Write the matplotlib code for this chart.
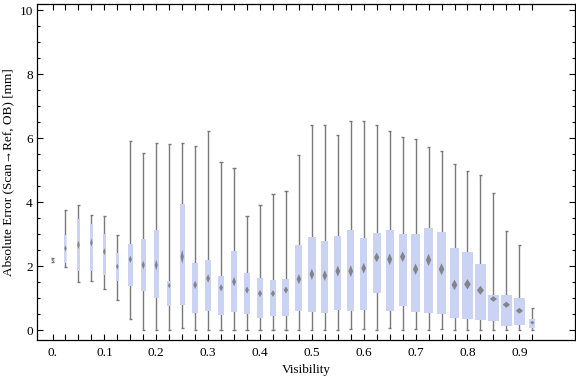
import matplotlib
matplotlib.use('Agg')
import matplotlib.pyplot as plt
from matplotlib.patches import Polygon

plt.rcParams['font.family'] = ['Liberation Serif', 'DejaVu Serif']

# visibility bins (box centres)
vis = [0.0, 0.025, 0.05, 0.075, 0.1, 0.125, 0.15, 0.175, 0.2, 0.225,
       0.25, 0.275, 0.3, 0.325, 0.35, 0.375, 0.4, 0.425, 0.45, 0.475,
       0.5, 0.525, 0.55, 0.575, 0.6, 0.625, 0.65, 0.675, 0.7, 0.725,
       0.75, 0.775, 0.8, 0.825, 0.85, 0.875, 0.9, 0.925]

# box-whisker statistics [mm]
whisk_lo = [2.12, 1.96, 1.51, 1.52, 1.27, 0.93, 0.33, 0.0, 0.0, 0.0,
            0.05, 0.0, 0.0, 0.0, 0.0, 0.0, 0.0, 0.0, 0.0, 0.0,
            0.0, 0.0, 0.0, 0.02, 0.02, 0.0, 0.05, 0.0, 0.02, 0.0,
            0.02, 0.0, 0.0, 0.0, 0.0, 0.0, 0.0, 0.0]
q1 = [2.15, 2.08, 1.84, 1.85, 1.73, 1.54, 1.39, 1.23, 1.01, 0.76,
      0.79, 0.54, 0.60, 0.48, 0.57, 0.51, 0.39, 0.45, 0.45, 0.59,
      0.57, 0.54, 0.64, 0.59, 0.63, 1.17, 0.59, 0.76, 0.57, 0.54,
      0.49, 0.39, 0.34, 0.32, 0.29, 0.14, 0.16, 0.06]
mediana = [2.2, 2.55, 2.66, 2.73, 2.45, 1.98, 2.21, 2.03, 2.03, 1.39,
           2.29, 1.41, 1.61, 1.32, 1.51, 1.25, 1.14, 1.14, 1.25, 1.59,
           1.74, 1.70, 1.84, 1.84, 1.93, 2.27, 2.21, 2.29, 1.90, 2.19,
           1.90, 1.41, 1.43, 1.24, 0.97, 0.79, 0.60, 0.23]
q3 = [2.22, 2.97, 3.46, 3.31, 3.0, 2.40, 2.69, 2.84, 3.13, 1.53,
      3.94, 2.09, 2.19, 1.69, 2.47, 1.78, 1.63, 1.56, 1.59, 2.66,
      2.91, 2.78, 2.94, 3.13, 2.88, 3.03, 3.13, 3.0, 3.0, 3.19,
      3.06, 2.56, 2.44, 2.06, 1.09, 1.09, 1.0, 0.34]
whisk_hi = [2.26, 3.75, 3.90, 3.58, 3.55, 2.96, 5.91, 5.52, 5.86, 5.81,
            5.83, 5.75, 6.21, 5.24, 5.05, 3.55, 3.90, 4.24, 4.34, 5.47,
            6.40, 6.40, 6.11, 6.52, 6.52, 6.40, 6.21, 6.02, 5.96, 5.71,
            5.61, 5.20, 4.96, 4.83, 4.27, 3.08, 2.65, 0.68]

# box widths in pixels (Mathematica scales them with the bin size)
ancho_px = [2, 2, 3, 3.3, 3, 3, 5, 5, 5, 4.3,
            5.3, 6, 6, 6, 6, 6, 6.3, 6.7, 7, 7,
            7.3, 7.3, 7.3, 7.3, 7.3, 8.3, 8, 8, 8.3, 8.3,
            8.7, 9, 10.3, 11, 11, 11.3, 11.3, 6]

fig = plt.figure(figsize=(5.76, 3.77), dpi=100)
ax = fig.add_axes([37/576, 1 - 340/377, 538/576, 336/377])

xmin, xmax = -0.0299, 1.0073
ymin, ymax = -0.3125, 10.19
ax.set_xlim(xmin, xmax)
ax.set_ylim(ymin, ymax)

px_x = (xmax - xmin) / 538.0   # unidades por pixel (x)
px_y = (ymax - ymin) / 336.0   # unidades por pixel (y)

c_caja = '#cbd3f5'
c_bigote = '#7a7a7a'

for i, x in enumerate(vis):
    w = ancho_px[i] * px_x
    cap = 1.6 * px_x
    # bigotes
    ax.vlines(x, whisk_lo[i], whisk_hi[i], color=c_bigote, lw=1.0, zorder=1)
    ax.hlines([whisk_lo[i], whisk_hi[i]], x - cap, x + cap, color=c_bigote, lw=1.0, zorder=1)
    # caja
    ax.bar(x, q3[i] - q1[i], bottom=q1[i], width=w, color=c_caja, lw=0, zorder=2)
    # diamante de la mediana
    iqr = q3[i] - q1[i]
    dh = max(0.055 * iqr + 0.045, 1.5 * px_y)
    dw = max(0.32 * ancho_px[i], 1.3) * px_x
    m = mediana[i]
    diamante = Polygon([(x - dw, m), (x, m + dh), (x + dw, m), (x, m - dh)],
                       closed=True, facecolor='#7c7c7c', edgecolor='none',
                       alpha=0.9, zorder=3)
    ax.add_patch(diamante)

# ticks
etiquetas = []
for i, v in enumerate(vis):
    if i % 4 == 0:
        etiquetas.append('0.' if i == 0 else '%.1f' % v)
    else:
        etiquetas.append('')
ax.set_xticks(vis)
ax.set_xticklabels(etiquetas)
ax.set_yticks([0, 2, 4, 6, 8, 10])
ax.set_yticks([0.5 * k for k in range(21) if k % 4 != 0], minor=True)

ax.tick_params(axis='both', which='major', direction='in', length=4, width=0.8,
               top=True, right=True, labelsize=9.5, pad=3)
ax.tick_params(axis='y', which='minor', direction='in', length=2.5, width=0.8,
               right=True)
ax.tick_params(axis='x', which='major', pad=5)

for s in ax.spines.values():
    s.set_linewidth(0.9)

ax.set_xlabel('Visibility', fontsize=9.5, labelpad=4)
ax.set_ylabel('Absolute Error (Scan\u2192Ref, OB) [mm]', fontsize=9.5, labelpad=4)

fig.savefig('out.png', dpi=100)
